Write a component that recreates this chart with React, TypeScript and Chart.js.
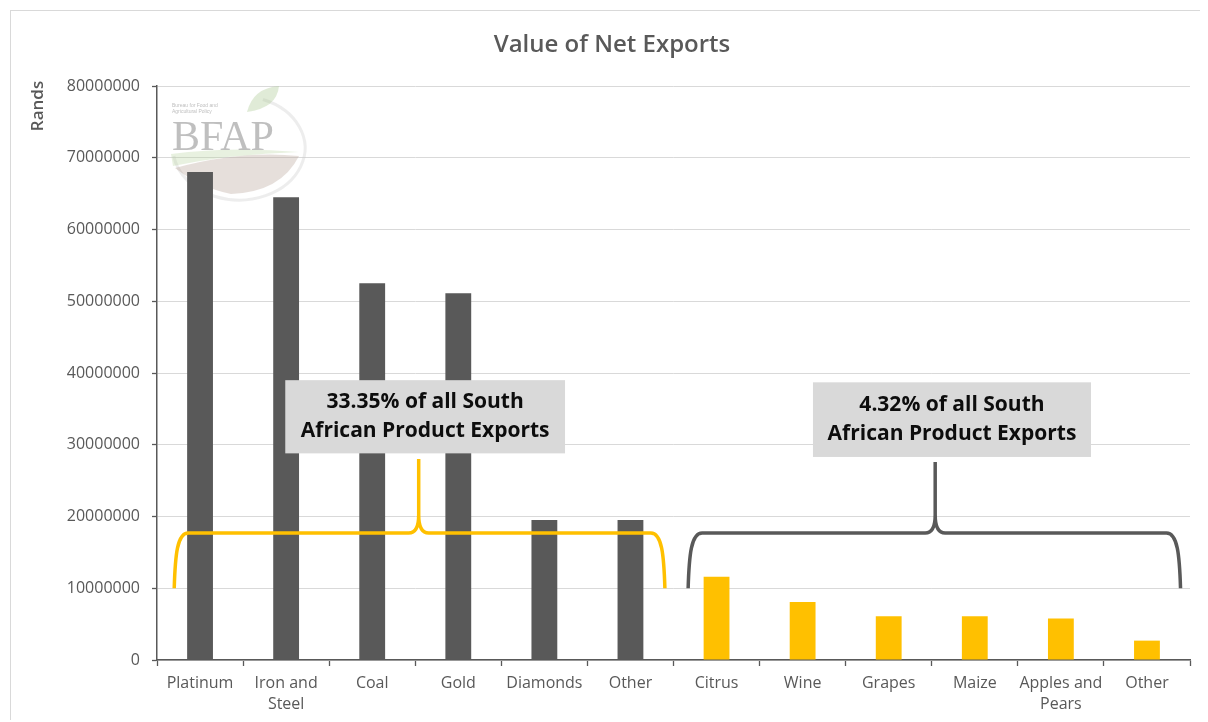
import { useEffect, useRef } from "react";
import { Chart, registerables } from "chart.js";

Chart.register(...registerables);

// ---- data ----
const categories: (string | string[])[] = [
  "Platinum",
  ["Iron and", "Steel"],
  "Coal",
  "Gold",
  "Diamonds",
  "Other",
  "Citrus",
  "Wine",
  "Grapes",
  "Maize",
  ["Apples and", "Pears"],
  "Other",
];
const mineralValues = [68000000, 64500000, 52500000, 51100000, 19500000, 19500000];
const agriValues = [11600000, 8100000, 6100000, 6100000, 5800000, 2700000];
const values = [...mineralValues, ...agriValues];
const yMin = 0;
const yMax = 80000000;
const yStep = 10000000;

const chartTitle = "Value of Net Exports";
const yTitle = "Rands";
const noteTexts = [
  ["33.35% of all South", "African Product Exports"],
  ["4.32% of all South", "African Product Exports"],
];

// ---- styling / layout ----
const DARK = "#595959";
const YELLOW = "#ffc000";
const barColors = values.map((_, i) => (i < mineralValues.length ? DARK : YELLOW));
const FONT = "'Open Sans', sans-serif";

const braces = [
  { from: -0.3, to: 5.4, tip: 2.54, base: 10000000, arm: 17700000, peak: 28000000, color: YELLOW },
  { from: 5.67, to: 11.39, tip: 8.54, base: 10000000, arm: 17700000, peak: 27600000, color: DARK },
];
const noteBoxes = [
  { x0: 0.99, x1: 4.24, yTop: 39000000, yBottom: 28800000 },
  { x0: 7.12, x1: 10.35, yTop: 38700000, yBottom: 28300000 },
];

const overlay = {
  id: "overlay",
  beforeDraw(chart: any) {
    const ctx = chart.ctx;
    ctx.save();
    ctx.fillStyle = "#ffffff";
    ctx.fillRect(0, 0, chart.width, chart.height);
    ctx.strokeStyle = "#d9d9d9";
    ctx.lineWidth = 1;
    ctx.strokeRect(2.5, 2.5, chart.width + 20, chart.height + 20);
    // title
    ctx.fillStyle = DARK;
    ctx.font = `600 24px ${FONT}`;
    ctx.textAlign = "center";
    ctx.textBaseline = "middle";
    ctx.fillText(chartTitle, 604, 37);
    // y axis title
    ctx.save();
    ctx.translate(30, 98);
    ctx.rotate(-Math.PI / 2);
    ctx.font = `600 17px ${FONT}`;
    ctx.fillText(yTitle, 0, 0);
    ctx.restore();
    ctx.restore();
  },
  beforeDatasetsDraw(chart: any) {
    // faint BFAP watermark
    const ctx = chart.ctx;
    const a = chart.chartArea;
    const ox = a.left + 14;
    const oy = a.top;
    ctx.save();
    ctx.globalAlpha = 0.4;
    // outer ring
    ctx.strokeStyle = "rgba(205,205,205,0.9)";
    ctx.lineWidth = 3;
    ctx.beginPath();
    ctx.ellipse(ox + 68, oy + 62, 66, 52, 0, -1.2, Math.PI * 0.95);
    ctx.stroke();
    // green swoosh
    ctx.fillStyle = "rgba(185,210,160,0.8)";
    ctx.beginPath();
    ctx.moveTo(ox, oy + 68);
    ctx.quadraticCurveTo(ox + 60, oy + 60, ox + 128, oy + 66);
    ctx.quadraticCurveTo(ox + 60, oy + 68, ox + 2, oy + 80);
    ctx.closePath();
    ctx.fill();
    // brown swoosh
    ctx.fillStyle = "rgba(185,165,155,0.9)";
    ctx.beginPath();
    ctx.moveTo(ox + 4, oy + 82);
    ctx.quadraticCurveTo(ox + 70, oy + 64, ox + 128, oy + 70);
    ctx.quadraticCurveTo(ox + 110, oy + 106, ox + 60, oy + 108);
    ctx.quadraticCurveTo(ox + 30, oy + 102, ox + 4, oy + 82);
    ctx.fill();
    // leaf
    ctx.fillStyle = "rgba(170,200,145,0.9)";
    ctx.beginPath();
    ctx.moveTo(ox + 76, oy + 26);
    ctx.quadraticCurveTo(ox + 82, oy + 2, ox + 108, oy + 0);
    ctx.quadraticCurveTo(ox + 106, oy + 22, ox + 76, oy + 26);
    ctx.fill();
    ctx.globalAlpha = 0.75;
    // text
    ctx.fillStyle = "rgba(170,170,170,1)";
    ctx.font = "42px 'Liberation Serif', serif";
    ctx.textAlign = "left";
    ctx.textBaseline = "alphabetic";
    ctx.fillText("BFAP", ox + 1, oy + 64);
    ctx.font = "5px sans-serif";
    ctx.fillText("Bureau for Food and", ox + 1, oy + 21);
    ctx.fillText("Agricultural Policy", ox + 1, oy + 27);
    ctx.restore();
  },
  afterDatasetsDraw(chart: any) {
    const ctx = chart.ctx;
    const xs = chart.scales.x;
    const ys = chart.scales.y;
    const px = (v: number) => xs.getPixelForValue(v);
    const py = (v: number) => ys.getPixelForValue(v);
    ctx.save();
    // braces
    braces.forEach((b) => {
      const x0 = px(b.from);
      const x1 = px(b.to);
      const xt = px(b.tip);
      const yb = py(b.base);
      const yh = py(b.arm);
      const yt = py(b.peak);
      ctx.strokeStyle = b.color;
      ctx.lineWidth = 3.5;
      ctx.lineCap = "butt";
      ctx.lineJoin = "round";
      ctx.beginPath();
      ctx.moveTo(x0, yb);
      ctx.bezierCurveTo(x0 + 1, yh + 22, x0 + 3, yh, x0 + 14, yh);
      ctx.lineTo(xt - 10, yh);
      ctx.quadraticCurveTo(xt, yh, xt, yh - 18);
      ctx.lineTo(xt, yt);
      ctx.moveTo(xt, yh - 18);
      ctx.quadraticCurveTo(xt, yh, xt + 10, yh);
      ctx.lineTo(x1 - 14, yh);
      ctx.bezierCurveTo(x1 - 3, yh, x1 - 1, yh + 22, x1, yb);
      ctx.stroke();
    });
    // note boxes
    noteBoxes.forEach((n, i) => {
      const l = px(n.x0);
      const r = px(n.x1);
      const t = py(n.yTop);
      const bt = py(n.yBottom);
      ctx.fillStyle = "#d9d9d9";
      ctx.fillRect(l, t, r - l, bt - t);
      ctx.fillStyle = "#0d0d0d";
      ctx.font = `bold 21px ${FONT}`;
      ctx.textAlign = "center";
      ctx.textBaseline = "middle";
      const cx = (l + r) / 2;
      const cy = (t + bt) / 2;
      const lines = noteTexts[i];
      lines.forEach((ln, k) => {
        ctx.fillText(ln, cx, cy + (k - (lines.length - 1) / 2) * 29);
      });
    });
    ctx.restore();
  },
};

export default function App() {
  const ref = useRef<HTMLCanvasElement | null>(null);
  useEffect(() => {
    if (!ref.current) return;
    const chart = new Chart(ref.current, {
      type: "bar",
      data: {
        labels: categories,
        datasets: [
          {
            data: values,
            backgroundColor: barColors,
            borderWidth: 0,
            barPercentage: 0.3,
            categoryPercentage: 1,
          },
        ],
      },
      options: {
        responsive: false,
        animation: false,
        layout: { padding: { left: 0, right: 18, top: 78, bottom: 0 } },
        plugins: {
          legend: { display: false },
          title: { display: false },
          tooltip: { enabled: false },
        },
        scales: {
          x: {
            afterFit: (s: any) => {
              s.height = 60;
            },
            grid: {
              offset: true,
              drawOnChartArea: false,
              drawTicks: true,
              tickLength: 6,
              tickColor: DARK,
              tickWidth: 1.3,
            },
            border: { color: DARK, width: 1.5 },
            ticks: {
              color: DARK,
              font: { family: FONT, size: 16, lineHeight: 1.3 },
              padding: 7,
              maxRotation: 0,
              autoSkip: false,
            },
          },
          y: {
            min: yMin,
            max: yMax,
            afterFit: (s: any) => {
              s.width = 149;
            },
            grid: {
              color: "#d9d9d9",
              lineWidth: 1,
              drawTicks: true,
              tickLength: 5,
              tickColor: DARK,
              tickWidth: 1.3,
            },
            border: { color: DARK, width: 1.5 },
            ticks: {
              stepSize: yStep,
              color: DARK,
              font: { family: FONT, size: 16 },
              padding: 12,
              callback: (v: any) => String(v),
            },
          },
        },
      },
      plugins: [overlay],
    });
    return () => chart.destroy();
  }, []);
  return (
    <canvas
      ref={ref}
      width={1200}
      height={712}
      style={{ display: "block", width: 1200, height: 712 }}
    />
  );
}
